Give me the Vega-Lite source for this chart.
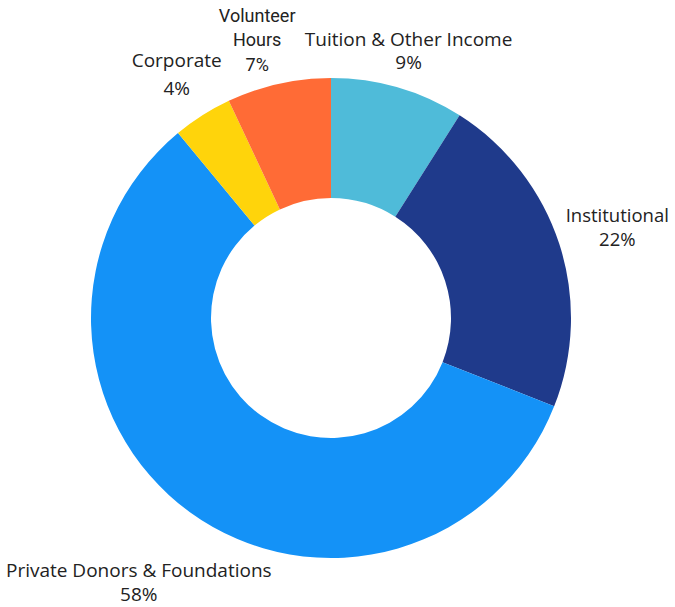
{
  "$schema": "https://vega.github.io/schema/vega-lite/v6.json",
  "width": 662,
  "height": 578,
  "autosize": "none",
  "padding": {"left": 0, "top": 29, "right": 13, "bottom": 0},
  "background": "white",
  "view": {"stroke": null},
  "data": {
    "values": [
      {"category": "Tuition & Other Income", "value": 9, "idx": 1, "label": "Tuition & Other Income\n9%"},
      {"category": "Institutional", "value": 22, "idx": 2, "label": "Institutional\n22%"},
      {"category": "Private Donors & Foundations", "value": 58, "idx": 3, "label": "Private Donors & Foundations\n58%"},
      {"category": "Corporate", "value": 4, "idx": 4, "label": "Corporate\n4%"},
      {"category": "Volunteer Hours", "value": 7, "idx": 5, "label": "Volunteer\nHours\n7%"}
    ]
  },
  "encoding": {
    "theta": {"field": "value", "type": "quantitative", "stack": true},
    "order": {"field": "idx", "type": "quantitative"}
  },
  "layer": [
    {
      "mark": {"type": "arc", "innerRadius": 120, "outerRadius": 240},
      "encoding": {
        "color": {
          "field": "category",
          "type": "nominal",
          "scale": {
            "domain": ["Tuition & Other Income", "Institutional", "Private Donors & Foundations", "Corporate", "Volunteer Hours"],
            "range": ["#4FBBD9", "#1F3A8B", "#1492F7", "#FFD40B", "#FF6B36"]
          },
          "legend": null
        }
      }
    },
    {
      "mark": {"type": "text", "radius": 278, "dy": -11, "font": "Open Sans", "fontSize": 19, "fill": "#222222", "lineBreak": "\n", "lineHeight": 23, "align": "center", "baseline": "middle"},
      "encoding": {"text": {"condition": {"test": "datum.category === 'Tuition & Other Income'", "field": "label"}, "value": ""}}
    },
    {
      "mark": {"type": "text", "radius": 301, "dy": -9, "font": "Open Sans", "fontSize": 18.5, "fill": "#222222", "lineBreak": "\n", "lineHeight": 24, "align": "center", "baseline": "middle"},
      "encoding": {"text": {"condition": {"test": "datum.category === 'Institutional'", "field": "label"}, "value": ""}}
    },
    {
      "mark": {"type": "text", "radius": 327, "dy": -12, "font": "Open Sans", "fontSize": 19, "fill": "#222222", "lineBreak": "\n", "lineHeight": 24, "align": "center", "baseline": "middle"},
      "encoding": {"text": {"condition": {"test": "datum.category === 'Private Donors & Foundations'", "field": "label"}, "value": ""}}
    },
    {
      "mark": {"type": "text", "radius": 288, "dy": -14, "font": "Open Sans", "fontSize": 19, "fill": "#222222", "lineBreak": "\n", "lineHeight": 28, "align": "center", "baseline": "middle"},
      "encoding": {"text": {"condition": {"test": "datum.category === 'Corporate'", "field": "label"}, "value": ""}}
    },
    {
      "mark": {"type": "text", "radius": 288, "dx": -11, "dy": -20, "font": "Roboto", "fontSize": 18, "fill": "#222222", "lineBreak": "\n", "lineHeight": 24.5, "align": "center", "baseline": "middle"},
      "encoding": {"text": {"condition": {"test": "datum.category === 'Volunteer Hours'", "field": "label"}, "value": ""}}
    }
  ]
}
